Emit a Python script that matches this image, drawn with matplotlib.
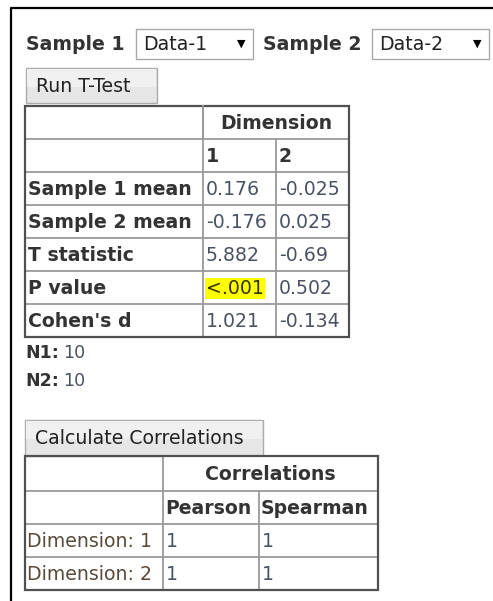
import matplotlib.pyplot as plt
from matplotlib.patches import Rectangle

# data shown in the widget
samples = ['Data-1', 'Data-2']
ttest_rows = ['Sample 1 mean', 'Sample 2 mean', 'T statistic', 'P value', "Cohen's d"]
dim1 = ['0.176', '-0.176', '5.882', '<.001', '1.021']
dim2 = ['-0.025', '0.025', '-0.69', '0.502', '-0.134']
n1 = 10
n2 = 10
corr_rows = ['Dimension: 1', 'Dimension: 2']
pearson = ['1', '1']
spearman = ['1', '1']

LBL = '#333333'
VAL = '#4a5262'
FS = 13.6

fig = plt.figure(figsize=(4.93, 6.01), dpi=100)
ax = fig.add_axes([0, 0, 1, 1])
ax.set_xlim(0, 493)
ax.set_ylim(601, 0)
ax.axis('off')

# outer frame
ax.plot([11, 11, 493], [601, 8, 8], color='black', lw=1.6, solid_capstyle='butt')


def button(x0, x1, y0, y1, label):
    ax.add_patch(Rectangle((x0, y0), x1 - x0, y1 - y0, facecolor='#e6e6e6',
                           edgecolor='#adadad', lw=1))
    ax.add_patch(Rectangle((x0 + 1, y0 + 1), x1 - x0 - 2, (y1 - y0) / 2,
                           facecolor='#f0f0f0', edgecolor='none'))
    ax.text(x0 + 10, (y0 + y1) / 2 + 1, label, fontsize=FS, color='#222222',
            va='center', ha='left')


def dropdown(x0, x1, y0, y1, label):
    ax.add_patch(Rectangle((x0, y0), x1 - x0, y1 - y0, facecolor='white',
                           edgecolor='#a9a9a9', lw=1))
    ax.text(x0 + 7, (y0 + y1) / 2 + 1, label, fontsize=FS, color='#222222',
            va='center', ha='left')
    ax.text(x1 - 12, (y0 + y1) / 2, '▼', fontsize=8, color='black',
            va='center', ha='center')


# sample selectors
ax.text(26, 45, 'Sample 1', fontsize=FS, fontweight='bold', color=LBL, va='center')
dropdown(136, 253, 29, 59, samples[0])
ax.text(263, 45, 'Sample 2', fontsize=FS, fontweight='bold', color=LBL, va='center')
dropdown(372, 489, 29, 59, samples[1])

button(26, 157, 68, 103, 'Run T-Test')

# t-test table
tx = [25, 203, 276, 349]
ty = [106 + 33 * i for i in range(8)]
ty[-1] = 337
for x in tx[1:-1]:
    ax.plot([x, x], [ty[0], ty[-1]], color='#9a9a9a', lw=1.3)
# merged header cell
ax.add_patch(Rectangle((tx[1] + 1, ty[0] + 1), tx[3] - tx[1] - 2, ty[1] - ty[0] - 2,
                       facecolor='white', edgecolor='none', zorder=2))
for y in ty[1:-1]:
    ax.plot([tx[0], tx[-1]], [y, y], color='#9a9a9a', lw=1.3)
ax.add_patch(Rectangle((tx[0], ty[0]), tx[-1] - tx[0], ty[-1] - ty[0],
                       facecolor='none', edgecolor='#505050', lw=1.6, zorder=3))
ax.plot([tx[1], tx[1]], [ty[0], ty[1]], color='#9a9a9a', lw=1.3, zorder=3)

ax.text((tx[1] + tx[3]) / 2, (ty[0] + ty[1]) / 2 + 1, 'Dimension', fontsize=FS,
        fontweight='bold', color=LBL, ha='center', va='center', zorder=4)
ax.text(tx[1] + 3, (ty[1] + ty[2]) / 2 + 1, '1', fontsize=FS, fontweight='bold',
        color=LBL, va='center')
ax.text(tx[2] + 3, (ty[1] + ty[2]) / 2 + 1, '2', fontsize=FS, fontweight='bold',
        color=LBL, va='center')
for i, name in enumerate(ttest_rows):
    yc = (ty[i + 2] + ty[i + 3]) / 2 + 1
    ax.text(tx[0] + 3, yc, name, fontsize=FS, fontweight='bold', color=LBL, va='center')
    t1 = ax.text(tx[1] + 3, yc, dim1[i], fontsize=FS, color=VAL, va='center')
    if dim1[i].startswith('<'):
        t1.set_color('#333300')
        t1.set_bbox(dict(facecolor='#ffff00', edgecolor='none', pad=0.5))
    ax.text(tx[2] + 3, yc, dim2[i], fontsize=FS, color=VAL, va='center')

ax.text(25, 353, 'N1:', fontsize=FS - 1, fontweight='bold', color=LBL, va='center')
ax.text(63, 353, str(n1), fontsize=FS - 1, color=VAL, va='center')
ax.text(25, 381, 'N2:', fontsize=FS - 1, fontweight='bold', color=LBL, va='center')
ax.text(63, 381, str(n2), fontsize=FS - 1, color=VAL, va='center')

button(25, 263, 420, 456, 'Calculate Correlations')

# correlations table
cx = [25, 163, 259, 378]
cy = [456, 491, 524, 557, 590]
for x in cx[1:-1]:
    ax.plot([x, x], [cy[0], cy[-1]], color='#9a9a9a', lw=1.3)
for y in cy[1:-1]:
    ax.plot([cx[0], cx[-1]], [y, y], color='#9a9a9a', lw=1.3)
ax.add_patch(Rectangle((cx[1] + 1, cy[0] + 1), cx[3] - cx[1] - 2, cy[1] - cy[0] - 2,
                       facecolor='white', edgecolor='none', zorder=2))
ax.add_patch(Rectangle((cx[0], cy[0]), cx[-1] - cx[0], cy[-1] - cy[0],
                       facecolor='none', edgecolor='#505050', lw=1.6, zorder=3))
ax.text((cx[1] + cx[3]) / 2, (cy[0] + cy[1]) / 2 + 1, 'Correlations', fontsize=FS,
        fontweight='bold', color=LBL, ha='center', va='center', zorder=4)
ax.text(cx[1] + 2, (cy[1] + cy[2]) / 2 + 1, 'Pearson', fontsize=FS, fontweight='bold',
        color=LBL, va='center')
ax.text(cx[2] + 2, (cy[1] + cy[2]) / 2 + 1, 'Spearman', fontsize=FS, fontweight='bold',
        color=LBL, va='center')
for i, name in enumerate(corr_rows):
    yc = (cy[i + 2] + cy[i + 3]) / 2 + 1
    ax.text(cx[0] + 2, yc, name, fontsize=FS, color='#5a4a3a', va='center')
    ax.text(cx[1] + 3, yc, pearson[i], fontsize=FS, color=VAL, va='center')
    ax.text(cx[2] + 3, yc, spearman[i], fontsize=FS, color=VAL, va='center')

fig.savefig('out.png', dpi=100)
